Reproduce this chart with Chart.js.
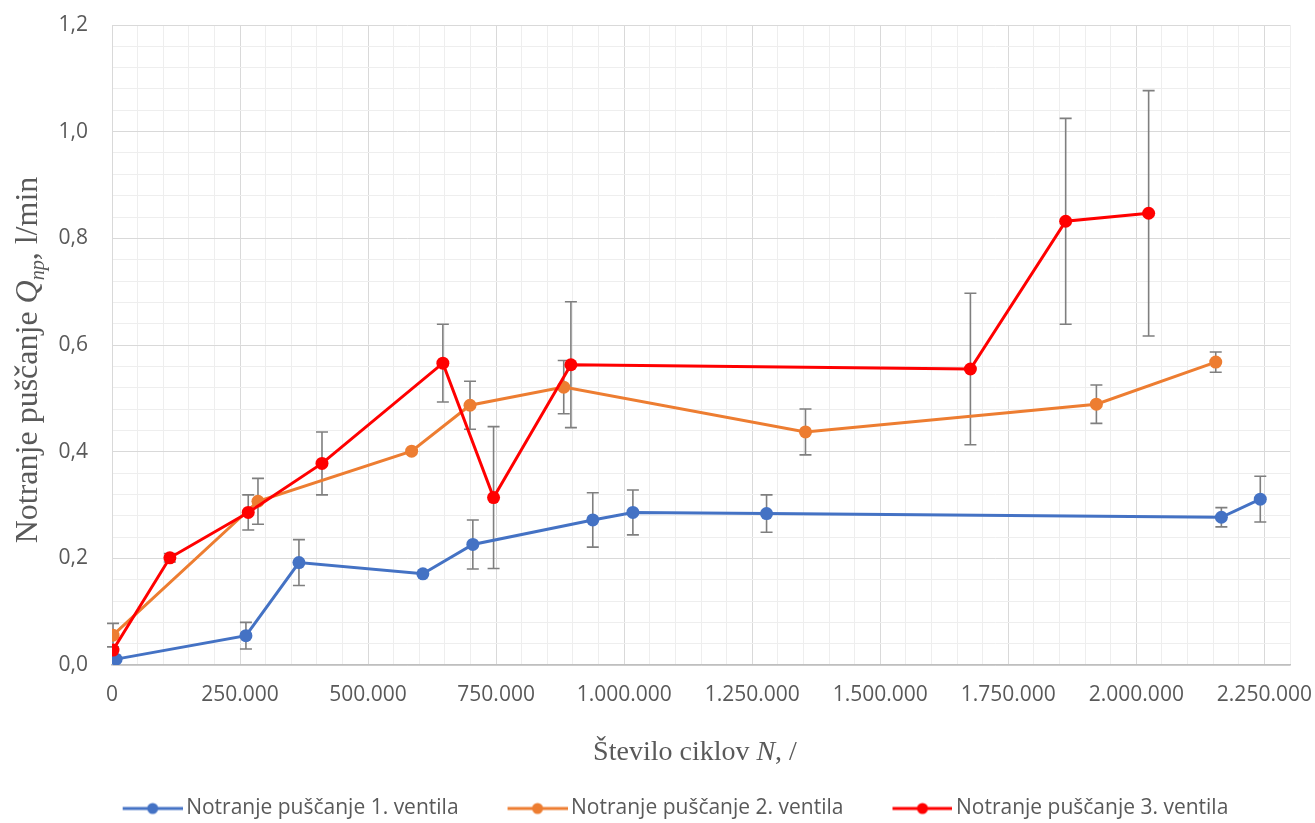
<!DOCTYPE html>
<html>
<head>
<meta charset="utf-8">
<script src="https://cdn.jsdelivr.net/npm/chart.js@4"></script>
<style>
html, body { margin: 0; background: #fff; }
</style>
</head>
<body>
<canvas id="chart" width="1315" height="823"></canvas>
<script>
"use strict";

// Series values (x = number of cycles, y = l/min, err = +/- bar)
var labels = ["Notranje puščanje 1. ventila", "Notranje puščanje 2. ventila", "Notranje puščanje 3. ventila"];

var x1 = [8000, 261500, 365000, 607000, 704500, 938700, 1017000, 1278000, 2166000, 2242000];
var y1 = [0.011, 0.055, 0.192, 0.171, 0.226, 0.272, 0.286, 0.284, 0.277, 0.311];
var e1 = [0, 0.025, 0.043, 0, 0.046, 0.051, 0.042, 0.035, 0.018, 0.043];

var x2 = [2000, 285000, 585000, 699000, 882000, 1354000, 1922000, 2155000];
var y2 = [0.056, 0.307, 0.401, 0.487, 0.521, 0.437, 0.489, 0.568];
var e2 = [0.022, 0.043, 0, 0.045, 0.05, 0.043, 0.036, 0.019];

var x3 = [2000, 113000, 266000, 410000, 646000, 745000, 896000, 1676000, 1862000, 2024000];
var y3 = [0.028, 0.201, 0.286, 0.378, 0.566, 0.314, 0.563, 0.555, 0.832, 0.847];
var e3 = [0, 0.008, 0.033, 0.059, 0.073, 0.133, 0.118, 0.142, 0.193, 0.23];

// Axis ranges and ticks
var xMax = 2300000, xMajor = 250000, xMinor = 50000;
var yMax = 1.2, yMajor = 0.2, yMinor = 0.04;

// Colours
var blue = "#4472c4";
var orange = "#ed7d31";
var red = "#ff0000";
var textGrey = "#595959";

function points(xs, ys) {
    var out = [];
    for (var i = 0; i < xs.length; i++) {
        out.push({x: xs[i], y: ys[i]});
    }
    return out;
}

function isMajor(v, step) {
    var r = v / step;
    return Math.abs(r - Math.round(r)) < 1e-6;
}

function fmtThousands(v) {
    return String(Math.round(v)).replace(/\B(?=(\d{3})+(?!\d))/g, ".");
}

// Small picture of a line with a dot, used as the legend symbol
function legendIcon(colour) {
    var c = document.createElement("canvas");
    c.width = 88;
    c.height = 14;
    var g = c.getContext("2d");
    g.strokeStyle = colour;
    g.lineWidth = 3;
    g.beginPath();
    g.moveTo(28, 7);
    g.lineTo(88, 7);
    g.stroke();
    g.fillStyle = colour;
    g.beginPath();
    g.arc(58, 7, 5.5, 0, 2 * Math.PI);
    g.fill();
    return c;
}

var errors = [e1, e2, e3];
var icons = [legendIcon(blue), legendIcon(orange), legendIcon(red)];

// Vertical error bars drawn through the chart scales
var errorBars = {
    id: "errorBars",
    beforeDatasetsDraw: function(chart) {
        var ctx = chart.ctx;
        var xs = chart.scales.x, ys = chart.scales.y;
        ctx.save();
        ctx.strokeStyle = "#7f7f7f";
        ctx.lineWidth = 1.6;
        chart.data.datasets.forEach(function(ds, i) {
            ds.data.forEach(function(p, j) {
                var e = errors[i][j];
                if (!e) return;
                var px = xs.getPixelForValue(p.x);
                var top = ys.getPixelForValue(p.y + e);
                var bot = ys.getPixelForValue(p.y - e);
                ctx.beginPath();
                ctx.moveTo(px, top);
                ctx.lineTo(px, bot);
                ctx.moveTo(px - 6, top);
                ctx.lineTo(px + 6, top);
                ctx.moveTo(px - 6, bot);
                ctx.lineTo(px + 6, bot);
                ctx.stroke();
            });
        });
        ctx.restore();
    }
};

// Nudge the legend row a little lower and right, as in the picture
var legendNudge = {
    id: "legendNudge",
    afterLayout: function(chart) {
        chart.legend.top += 6;
        chart.legend.bottom += 6;
        chart.legend.left += 20;
        chart.legend.right += 20;
    }
};

// Axis titles with italic symbols and subscript
function drawRuns(ctx, runs, x, y) {
    var total = 0;
    runs.forEach(function(r) {
        ctx.font = r.font;
        total += ctx.measureText(r.text).width;
    });
    var cx = x - total / 2;
    runs.forEach(function(r) {
        ctx.font = r.font;
        ctx.fillText(r.text, cx, y + (r.dy || 0));
        cx += ctx.measureText(r.text).width;
    });
}

var axisTitles = {
    id: "axisTitles",
    afterDraw: function(chart) {
        var ctx = chart.ctx;
        var area = chart.chartArea;
        ctx.save();
        ctx.fillStyle = textGrey;
        ctx.textBaseline = "alphabetic";
        ctx.textAlign = "left";
        var serif = "\"Liberation Serif\", \"Times New Roman\", serif";
        drawRuns(ctx, [
            {text: "Število ciklov ", font: "28px " + serif},
            {text: "N", font: "italic 28px " + serif},
            {text: ", /", font: "28px " + serif}
        ], (area.left + area.right) / 2 - 6, 760);

        ctx.translate(37, 360);
        ctx.rotate(-Math.PI / 2);
        drawRuns(ctx, [
            {text: "Notranje puščanje ", font: "32px " + serif},
            {text: "Q", font: "italic 32px " + serif},
            {text: "np", font: "italic 20px " + serif, dy: 7},
            {text: ", l/min", font: "32px " + serif}
        ], 0, 0);
        ctx.restore();
    }
};

var tickFont = {family: "\"Open Sans\", sans-serif", size: 21};

new Chart(document.getElementById("chart"), {
    type: "line",
    data: {
        datasets: [
            {label: labels[0], data: points(x1, y1), borderColor: blue, backgroundColor: blue, order: 2},
            {label: labels[1], data: points(x2, y2), borderColor: orange, backgroundColor: orange, order: 1},
            {label: labels[2], data: points(x3, y3), borderColor: red, backgroundColor: red, order: 0}
        ]
    },
    options: {
        responsive: false,
        animation: false,
        devicePixelRatio: 1,
        layout: {padding: {left: 0, right: 25, top: 25, bottom: 0}},
        elements: {
            line: {borderWidth: 3, tension: 0, fill: false},
            point: {radius: 6.5, borderWidth: 0, hoverRadius: 6.5}
        },
        scales: {
            x: {
                type: "linear",
                min: 0,
                max: xMax,
                afterFit: function(s) { s.height = 99; },
                grid: {
                    drawTicks: false,
                    color: function(c) { return isMajor(c.tick.value, xMajor) ? "#d9d9d9" : "#eeeeee"; },
                    lineWidth: 1
                },
                border: {color: "#bfbfbf", width: 1.5},
                ticks: {
                    stepSize: xMinor,
                    autoSkip: false,
                    maxRotation: 0,
                    padding: 17,
                    color: textGrey,
                    font: tickFont,
                    callback: function(v) { return isMajor(v, xMajor) ? fmtThousands(v) : ""; }
                }
            },
            y: {
                min: 0,
                max: yMax,
                afterFit: function(s) { s.width = 112; },
                grid: {
                    drawTicks: true,
                    tickLength: 22,
                    tickColor: "rgba(0,0,0,0)",
                    color: function(c) { return isMajor(c.tick.value, yMajor) ? "#d9d9d9" : "#eeeeee"; },
                    lineWidth: 1
                },
                border: {color: "#d9d9d9"},
                ticks: {
                    stepSize: yMinor,
                    autoSkip: false,
                    padding: 2,
                    color: textGrey,
                    font: tickFont,
                    callback: function(v) { return isMajor(v, yMajor) ? v.toFixed(1).replace(".", ",") : ""; }
                }
            }
        },
        plugins: {
            tooltip: {enabled: false},
            legend: {
                position: "bottom",
                labels: {
                    usePointStyle: true,
                    pointStyleWidth: 74,
                    padding: 28,
                    color: textGrey,
                    font: {family: "\"Open Sans\", sans-serif", size: 21},
                    sort: function(a, b) { return a.datasetIndex - b.datasetIndex; },
                    generateLabels: function(chart) {
                        var items = Chart.defaults.plugins.legend.labels.generateLabels(chart);
                        items.forEach(function(it) { it.pointStyle = icons[it.datasetIndex]; });
                        return items;
                    }
                }
            }
        }
    },
    plugins: [errorBars, legendNudge, axisTitles]
});
</script>
</body>
</html>
